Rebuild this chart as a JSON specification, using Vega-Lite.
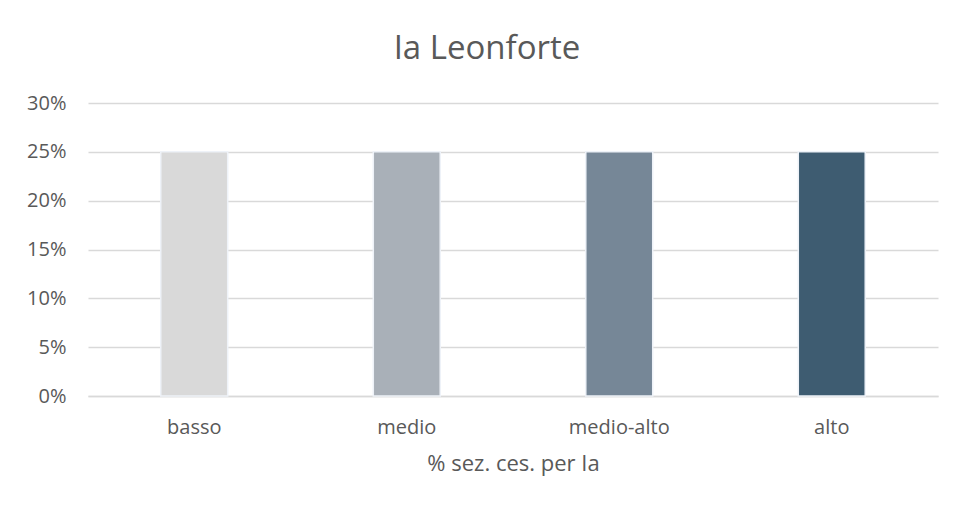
{
  "$schema": "https://vega.github.io/schema/vega-lite/v6.json",
  "width": 850,
  "height": 293,
  "autosize": {"type": "none"},
  "padding": {"left": 88, "top": 103, "right": 20, "bottom": 114},
  "background": "white",
  "title": {
    "text": "Ia Leonforte",
    "font": "Open Sans",
    "fontSize": 33,
    "fontWeight": "normal",
    "color": "#595959",
    "anchor": "middle",
    "dx": -26,
    "offset": 27
  },
  "data": {
    "values": [
      {"categoria": "basso", "valore": 0.25},
      {"categoria": "medio", "valore": 0.25},
      {"categoria": "medio-alto", "valore": 0.25},
      {"categoria": "alto", "valore": 0.25}
    ]
  },
  "mark": {"type": "bar", "width": {"band": 0.315}, "stroke": "#EEF2F8", "strokeWidth": 1.5},
  "encoding": {
    "x": {
      "field": "categoria",
      "type": "nominal",
      "sort": ["basso", "medio", "medio-alto", "alto"],
      "scale": {"paddingInner": 0, "paddingOuter": 0},
      "axis": {
        "title": "% sez. ces. per Ia",
        "labelAngle": 0,
        "labelFont": "Open Sans",
        "labelFontSize": 20,
        "labelColor": "#595959",
        "labelPadding": 21,
        "titleFont": "Open Sans",
        "titleFontSize": 22,
        "titleFontWeight": "normal",
        "titleColor": "#595959",
        "titlePadding": 16,
        "ticks": false,
        "domainColor": "#D9D9D9",
        "domainWidth": 1.5
      }
    },
    "y": {
      "field": "valore",
      "type": "quantitative",
      "scale": {"domain": [0, 0.3], "nice": false},
      "axis": {
        "title": null,
        "format": ".0%",
        "values": [0, 0.05, 0.1, 0.15, 0.2, 0.25, 0.3],
        "labelFont": "Open Sans",
        "labelFontSize": 20,
        "labelColor": "#595959",
        "labelPadding": 22,
        "ticks": false,
        "domain": false,
        "gridColor": "#D9D9D9",
        "gridWidth": 1.5
      }
    },
    "color": {
      "field": "categoria",
      "type": "nominal",
      "scale": {
        "domain": ["basso", "medio", "medio-alto", "alto"],
        "range": ["#D9D9D9", "#A9B0B8", "#768797", "#3E5C71"]
      },
      "legend": null
    }
  },
  "config": {"view": {"stroke": null}}
}
